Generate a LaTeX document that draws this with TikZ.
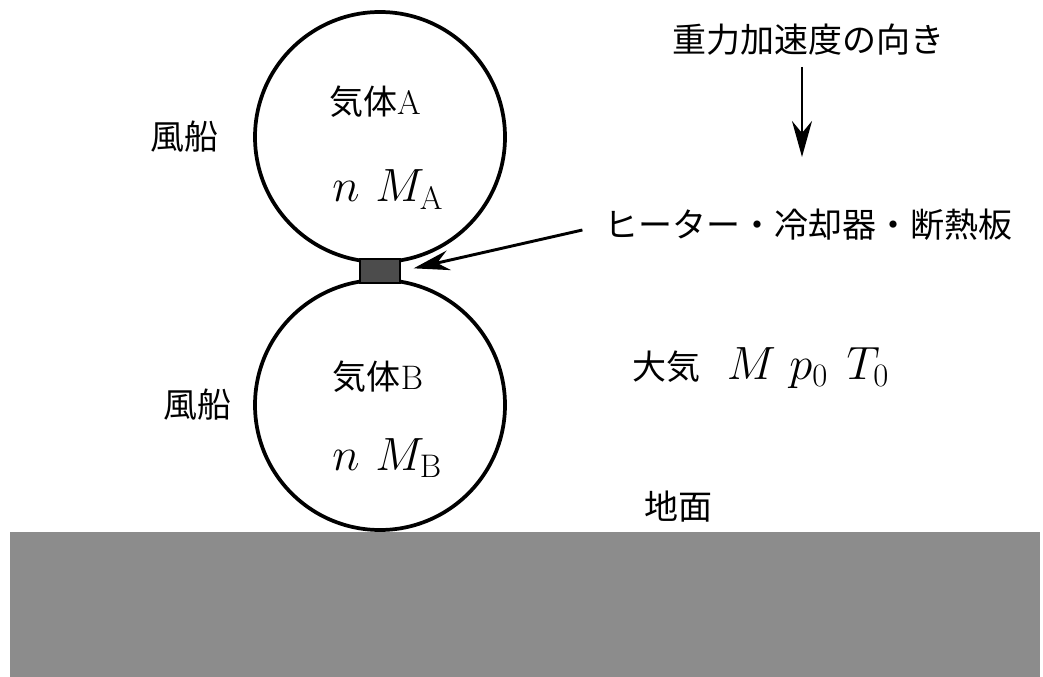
\RequirePackage{fix-cm}
\documentclass[tikz,border=0pt]{standalone}
\usepackage{fontspec}
\newfontfamily\cjk{Noto Sans CJK JP}
\usetikzlibrary{arrows.meta}
\begin{document}
\begin{tikzpicture}[x=0.75pt,y=-0.75pt,
  balloon/.style={circle,draw,line width=2.8pt,minimum size=187.5pt,inner sep=0pt},
  heater/.style={rectangle,draw,fill=black!70,line width=1pt,minimum width=30pt,minimum height=18pt,inner sep=0pt},
  jtext/.style={font=\fontsize{25.5}{30}\selectfont\cjk,inner sep=0pt},
  mtext/.style={font=\fontsize{35}{42}\selectfont,inner sep=0pt},
  arr/.style={line width=2.2pt,-{Stealth[length=27pt,width=15pt,inset=9pt]}},
  groundfill/.style={fill=black!45}
]
\useasboundingbox (0,0) rectangle (1043,677);
\fill[groundfill] (10,532) rectangle (1040,677);
\node[balloon] (A) at (380,137) {};
\node[balloon] (B) at (380,405) {};
\node[heater] (H) at (380,271) {};

\node[jtext] (fA) at (184,137) {風船};
\node[jtext] (fB) at (197,405) {風船};
\node[jtext] (gA) at (375,102) {気体{\rmfamily A}};
\node[jtext] (gB) at (378,377) {気体{\rmfamily B}};
\node[mtext,anchor=base west] (mA) at (332,202) {$n\hspace{12pt}M_{\mathrm{A}}$};
\node[mtext,anchor=base west] (mB) at (332,470) {$n\hspace{12pt}M_{\mathrm{B}}$};
\node[jtext,anchor=base west] (air) at (632,380) {大気\hspace{20pt}{\fontsize{35}{42}\selectfont$M\hspace{10pt}p_0\hspace{14pt}T_0$}};
\node[jtext] (earth) at (678,507) {地面};
\node[jtext] (grav) at (808,40) {重力加速度の向き};
\node[jtext] (heat) at (808,225) {ヒーター・冷却器・断熱板};

\coordinate (g1) at (802,67);
\coordinate (g2) at (802,157);
\draw[arr] (g1) -- (g2);
\draw[arr] ([xshift=-16pt,yshift=-3.75pt]heat.west) -- ([xshift=9.75pt,yshift=2pt]H.east);
\end{tikzpicture}
\end{document}
